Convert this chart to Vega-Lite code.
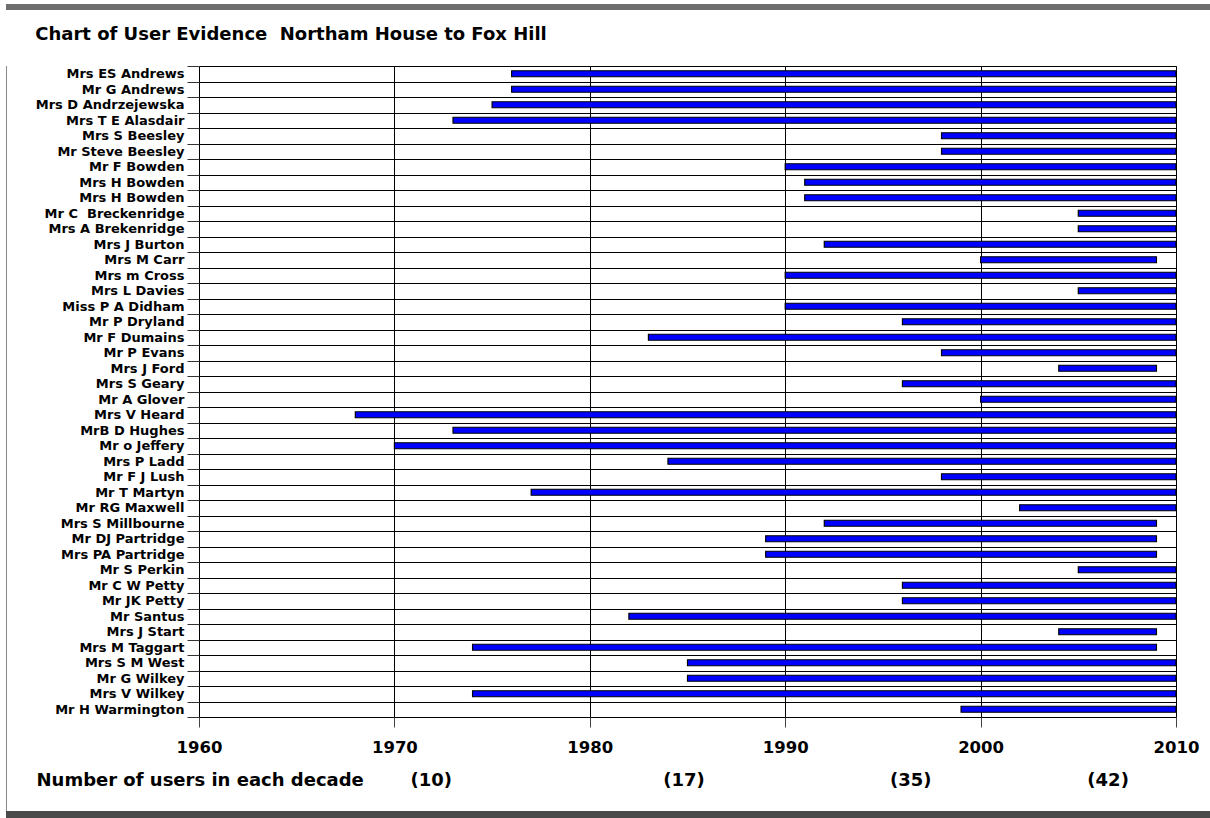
{
  "$schema": "https://vega.github.io/schema/vega-lite/v6.json",
  "background": "white",
  "padding": {"left": 6, "top": 4, "right": 0, "bottom": 0},
  "config": {"view": {"stroke": null}, "concat": {"spacing": 0}},
  "datasets": {
    "users": [
      {"name": "Mrs ES Andrews", "start": 1976, "end": 2010},
      {"name": "Mr G Andrews", "start": 1976, "end": 2010},
      {"name": "Mrs D Andrzejewska", "start": 1975, "end": 2010},
      {"name": "Mrs T E Alasdair", "start": 1973, "end": 2010},
      {"name": "Mrs S Beesley", "start": 1998, "end": 2010},
      {"name": "Mr Steve Beesley", "start": 1998, "end": 2010},
      {"name": "Mr F Bowden", "start": 1990, "end": 2010},
      {"name": "Mrs H Bowden", "start": 1991, "end": 2010},
      {"name": "Mrs H Bowden ", "start": 1991, "end": 2010},
      {"name": "Mr C \u00a0Breckenridge", "start": 2005, "end": 2010},
      {"name": "Mrs A Brekenridge", "start": 2005, "end": 2010},
      {"name": "Mrs J Burton", "start": 1992, "end": 2010},
      {"name": "Mrs M Carr", "start": 2000, "end": 2009},
      {"name": "Mrs m Cross", "start": 1990, "end": 2010},
      {"name": "Mrs L Davies", "start": 2005, "end": 2010},
      {"name": "Miss P A Didham", "start": 1990, "end": 2010},
      {"name": "Mr P Dryland", "start": 1996, "end": 2010},
      {"name": "Mr F Dumains", "start": 1983, "end": 2010},
      {"name": "Mr P Evans", "start": 1998, "end": 2010},
      {"name": "Mrs J Ford", "start": 2004, "end": 2009},
      {"name": "Mrs S Geary", "start": 1996, "end": 2010},
      {"name": "Mr A Glover", "start": 2000, "end": 2010},
      {"name": "Mrs V Heard", "start": 1968, "end": 2010},
      {"name": "MrB D Hughes", "start": 1973, "end": 2010},
      {"name": "Mr o Jeffery", "start": 1970, "end": 2010},
      {"name": "Mrs P Ladd", "start": 1984, "end": 2010},
      {"name": "Mr F J Lush", "start": 1998, "end": 2010},
      {"name": "Mr T Martyn", "start": 1977, "end": 2010},
      {"name": "Mr RG Maxwell", "start": 2002, "end": 2010},
      {"name": "Mrs S Millbourne", "start": 1992, "end": 2009},
      {"name": "Mr DJ Partridge", "start": 1989, "end": 2009},
      {"name": "Mrs PA Partridge", "start": 1989, "end": 2009},
      {"name": "Mr S Perkin", "start": 2005, "end": 2010},
      {"name": "Mr C W Petty", "start": 1996, "end": 2010},
      {"name": "Mr JK Petty", "start": 1996, "end": 2010},
      {"name": "Mr Santus", "start": 1982, "end": 2010},
      {"name": "Mrs J Start", "start": 2004, "end": 2009},
      {"name": "Mrs M Taggart", "start": 1974, "end": 2009},
      {"name": "Mrs S M West", "start": 1985, "end": 2010},
      {"name": "Mr G Wilkey", "start": 1985, "end": 2010},
      {"name": "Mrs V Wilkey", "start": 1974, "end": 2010},
      {"name": "Mr H Warmington", "start": 1999, "end": 2010}
    ],
    "counts": [
      {"mid": 1971.86, "users": "(10)"},
      {"mid": 1984.8, "users": "(17)"},
      {"mid": 1996.4, "users": "(35)"},
      {"mid": 2006.5, "users": "(42)"}
    ]
  },
  "spacing": 0,
  "align": "none",
  "vconcat": [
    {"data": {"values": []}, "mark": "rect", "width": 1204, "height": 6, "view": {"fill": "#6e6e6e", "stroke": null}},
    {"data": {"values": []}, "mark": "rect", "width": 1204, "height": 15, "view": {"fill": "white", "stroke": null}},
    {
      "spacing": 27,
      "align": "none",
      "hconcat": [
        {"data": {"values": []}, "mark": "rect", "width": 1, "height": 745, "view": {"fill": "#8a8a8a", "stroke": null}},
        {
          "width": 977,
          "height": 651,
          "title": {
            "text": "Chart of User Evidence \u00a0Northam House to Fox Hill",
            "anchor": "start",
            "dx": 0,
            "font": "DejaVu Sans",
            "fontSize": 18,
            "fontWeight": "bold",
            "color": "black",
            "baseline": "alphabetic",
            "offset": 2
          },
          "view": {"stroke": "#808080", "strokeWidth": 1},
          "resolve": {"axis": {"x": "independent"}},
          "layer": [
            {
              "data": {"name": "users"},
              "mark": {"type": "bar", "height": 6, "fill": "#0000ff", "stroke": "black", "strokeWidth": 1.2},
              "encoding": {
                "y": {
                  "field": "name",
                  "type": "nominal",
                  "sort": null,
                  "scale": {"paddingInner": 0, "paddingOuter": 0},
                  "axis": {
                    "title": null,
                    "grid": true,
                    "gridColor": "black",
                    "gridOpacity": 1,
                    "tickBand": "extent",
                    "tickSize": 12,
                    "tickColor": "#333333",
                    "domain": false,
                    "labelFont": "DejaVu Sans",
                    "labelFontSize": 13,
                    "labelFontWeight": "bold",
                    "labelColor": "black",
                    "labelPadding": 3,
                    "labelLimit": 0,
                    "labelExpr": "trim(datum.label)"
                  }
                },
                "x": {
                  "field": "start",
                  "type": "quantitative",
                  "scale": {"domain": [1960, 2010], "nice": false, "zero": false},
                  "axis": {
                    "title": null,
                    "values": [1960, 1970, 1980, 1990, 2000, 2010],
                    "format": "d",
                    "grid": true,
                    "gridColor": "black",
                    "gridOpacity": 1,
                    "domain": false,
                    "tickColor": "#444444",
                    "tickSize": 10,
                    "labelFont": "DejaVu Sans",
                    "labelFontSize": 16.5,
                    "labelFontWeight": "bold",
                    "labelColor": "black",
                    "labelBaseline": "alphabetic",
                    "labelPadding": 25.8,
                    "labelFlush": false,
                    "labelOverlap": false
                  }
                },
                "x2": {"field": "end"}
              }
            },
            {
              "data": {"name": "counts"},
              "mark": {"type": "point", "opacity": 0},
              "encoding": {
                "x": {
                  "field": "mid",
                  "type": "quantitative",
                  "axis": {
                    "orient": "bottom",
                    "values": [1971.86, 1984.8, 1996.4, 2006.5],
                    "labelExpr": "datum.value < 1978 ? '(10)' : datum.value < 1990 ? '(17)' : datum.value < 2000 ? '(35)' : '(42)'",
                    "grid": false,
                    "ticks": false,
                    "tickSize": 0,
                    "domain": false,
                    "labelFont": "DejaVu Sans",
                    "labelFontSize": 18,
                    "labelFontWeight": "bold",
                    "labelColor": "black",
                    "labelBaseline": "alphabetic",
                    "labelPadding": 68.5,
                    "labelFlush": false,
                    "labelOverlap": false,
                    "title": "Number of users in each decade",
                    "titleFont": "DejaVu Sans",
                    "titleFontSize": 18,
                    "titleFontWeight": "bold",
                    "titleColor": "black",
                    "titleAlign": "left",
                    "titleAnchor": "start",
                    "titleBaseline": "alphabetic",
                    "titleX": -163,
                    "titleY": 68.5
                  }
                }
              }
            }
          ]
        }
      ]
    },
    {"data": {"values": []}, "mark": "rect", "width": 1204, "height": 7, "view": {"fill": "#4a4a4a", "stroke": null}}
  ]
}
